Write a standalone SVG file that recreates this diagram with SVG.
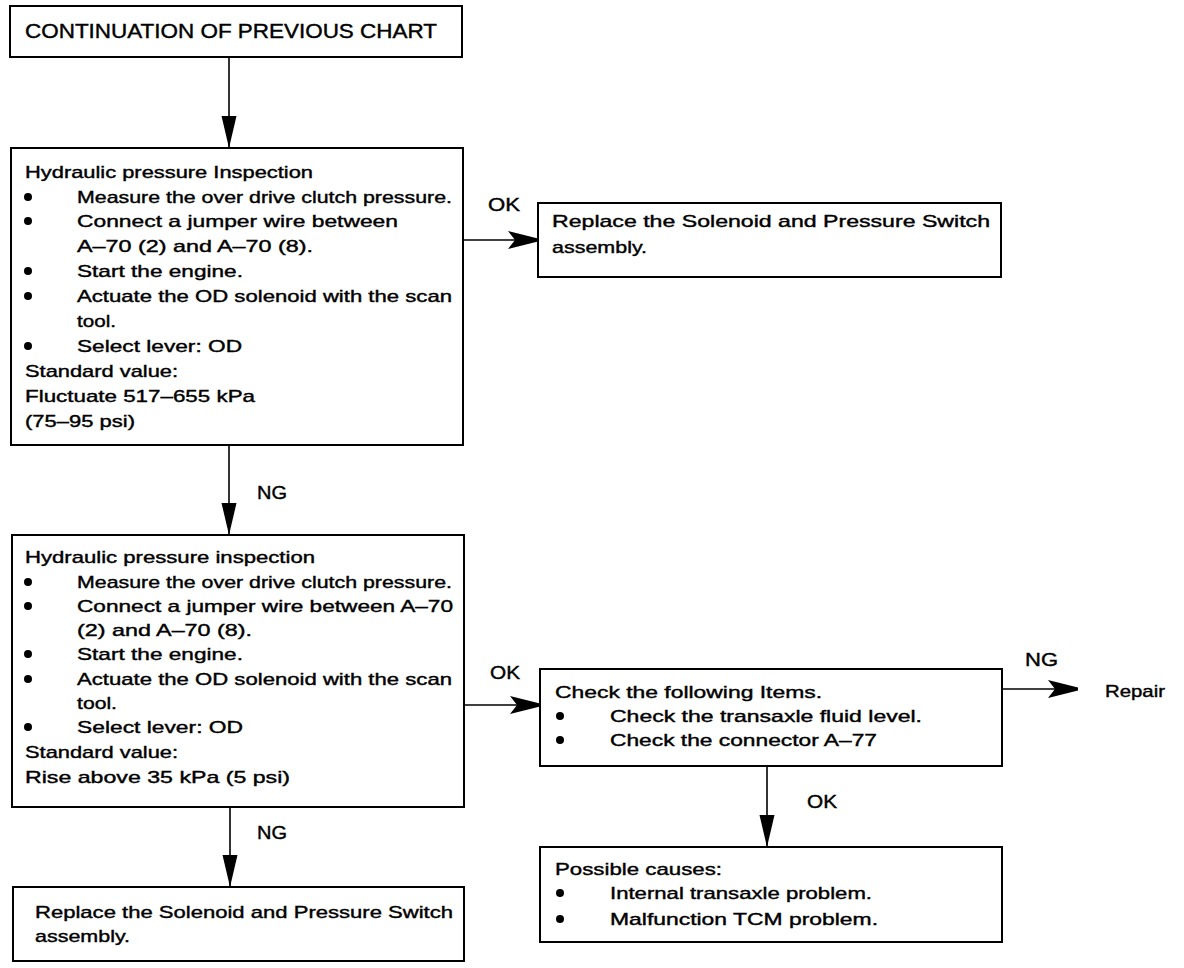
<svg xmlns="http://www.w3.org/2000/svg" width="1184" height="968" viewBox="0 0 1184 968">
<style>
.box{fill:#fff;stroke:#000;stroke-width:2}
.t{font-family:"Liberation Sans",Arial,sans-serif;font-size:17px;fill:#000;stroke:#000;stroke-width:0.4}
.title{font-size:20px}
.lbl{font-size:18px}
.c{stroke:#000;stroke-width:1.6;fill:none}
.b{fill:#000}
</style>
<defs>
<marker id="tri" markerUnits="userSpaceOnUse" viewBox="0 -8 32 16" markerWidth="32" markerHeight="16" refX="32" refY="0" orient="auto">
<path d="M0,-7.5 L32,0 L0,7.5 z" fill="#000"/>
</marker>
<marker id="dart" markerUnits="userSpaceOnUse" viewBox="0 -10 30 20" markerWidth="30" markerHeight="20" refX="30" refY="0" orient="auto">
<path d="M0,-9 L30,-1.5 L30,1.5 L0,9 L7,0 z" fill="#000"/>
</marker>
</defs>
<rect width="1184" height="968" fill="#fff"/>

<g id="connectors">
<line class="c" x1="229" y1="57" x2="229" y2="148" marker-end="url(#tri)"/>
<line class="c" x1="229" y1="445" x2="229" y2="535" marker-end="url(#tri)"/>
<line class="c" x1="230" y1="807" x2="230" y2="887" marker-end="url(#tri)"/>
<line class="c" x1="767" y1="766" x2="767" y2="847" marker-end="url(#tri)"/>
<line class="c" x1="463" y1="240" x2="538" y2="240" marker-end="url(#dart)"/>
<line class="c" x1="463" y1="705" x2="540" y2="705" marker-end="url(#dart)"/>
<line class="c" x1="1002" y1="689" x2="1078" y2="689" marker-end="url(#dart)"/>
<text class="t lbl" x="488" y="211" textLength="32" lengthAdjust="spacingAndGlyphs">OK</text>
<text class="t lbl" x="257" y="499" textLength="30" lengthAdjust="spacingAndGlyphs">NG</text>
<text class="t lbl" x="490" y="679" textLength="30" lengthAdjust="spacingAndGlyphs">OK</text>
<text class="t lbl" x="1025" y="666" textLength="33" lengthAdjust="spacingAndGlyphs">NG</text>
<text class="t lbl" x="807" y="808" textLength="30" lengthAdjust="spacingAndGlyphs">OK</text>
<text class="t lbl" x="257" y="839" textLength="30" lengthAdjust="spacingAndGlyphs">NG</text>
</g>

<g id="n-start">
<rect class="box" x="10" y="6" width="452" height="51"/>
<text class="t title" x="25" y="38" textLength="412" lengthAdjust="spacingAndGlyphs">CONTINUATION OF PREVIOUS CHART</text>
</g>

<g id="n-insp1">
<rect class="box" x="11" y="148" width="452" height="297"/>
<text class="t" x="25" y="178" textLength="288" lengthAdjust="spacingAndGlyphs">Hydraulic pressure Inspection</text>
<circle class="b" cx="28" cy="197" r="4"/>
<text class="t" x="77" y="203" textLength="375" lengthAdjust="spacingAndGlyphs">Measure the over drive clutch pressure.</text>
<circle class="b" cx="28" cy="221" r="4"/>
<text class="t" x="77" y="227" textLength="321" lengthAdjust="spacingAndGlyphs">Connect a jumper wire between</text>
<text class="t" x="77" y="252" textLength="236" lengthAdjust="spacingAndGlyphs">A–70 (2) and A–70 (8).</text>
<circle class="b" cx="28" cy="271" r="4"/>
<text class="t" x="77" y="277" textLength="166" lengthAdjust="spacingAndGlyphs">Start the engine.</text>
<circle class="b" cx="28" cy="296" r="4"/>
<text class="t" x="77" y="302" textLength="375" lengthAdjust="spacingAndGlyphs">Actuate the OD solenoid with the scan</text>
<text class="t" x="77" y="327" textLength="39" lengthAdjust="spacingAndGlyphs">tool.</text>
<circle class="b" cx="28" cy="346" r="4"/>
<text class="t" x="77" y="352" textLength="165" lengthAdjust="spacingAndGlyphs">Select lever: OD</text>
<text class="t" x="25" y="377" textLength="153" lengthAdjust="spacingAndGlyphs">Standard value:</text>
<text class="t" x="25" y="402" textLength="230" lengthAdjust="spacingAndGlyphs">Fluctuate 517–655 kPa</text>
<text class="t" x="25" y="427" textLength="110" lengthAdjust="spacingAndGlyphs">(75–95 psi)</text>
</g>

<g id="n-replace1">
<rect class="box" x="538" y="203" width="463" height="74"/>
<text class="t" x="552" y="227" textLength="438" lengthAdjust="spacingAndGlyphs">Replace the Solenoid and Pressure Switch</text>
<text class="t" x="552" y="253" textLength="95" lengthAdjust="spacingAndGlyphs">assembly.</text>
</g>

<g id="n-insp2">
<rect class="box" x="12" y="535" width="452" height="272"/>
<text class="t" x="25" y="563" textLength="290" lengthAdjust="spacingAndGlyphs">Hydraulic pressure inspection</text>
<circle class="b" cx="28" cy="582" r="4"/>
<text class="t" x="77" y="588" textLength="375" lengthAdjust="spacingAndGlyphs">Measure the over drive clutch pressure.</text>
<circle class="b" cx="28" cy="606" r="4"/>
<text class="t" x="77" y="612" textLength="376" lengthAdjust="spacingAndGlyphs">Connect a jumper wire between A–70</text>
<text class="t" x="77" y="636" textLength="175" lengthAdjust="spacingAndGlyphs">(2) and A–70 (8).</text>
<circle class="b" cx="28" cy="654" r="4"/>
<text class="t" x="77" y="660" textLength="166" lengthAdjust="spacingAndGlyphs">Start the engine.</text>
<circle class="b" cx="28" cy="679" r="4"/>
<text class="t" x="77" y="685" textLength="375" lengthAdjust="spacingAndGlyphs">Actuate the OD solenoid with the scan</text>
<text class="t" x="77" y="709" textLength="40" lengthAdjust="spacingAndGlyphs">tool.</text>
<circle class="b" cx="28" cy="727" r="4"/>
<text class="t" x="77" y="733" textLength="166" lengthAdjust="spacingAndGlyphs">Select lever: OD</text>
<text class="t" x="25" y="758" textLength="153" lengthAdjust="spacingAndGlyphs">Standard value:</text>
<text class="t" x="25" y="783" textLength="265" lengthAdjust="spacingAndGlyphs">Rise above 35 kPa (5 psi)</text>
</g>

<g id="n-check">
<rect class="box" x="540" y="669" width="462" height="97"/>
<text class="t" x="555" y="698" textLength="267" lengthAdjust="spacingAndGlyphs">Check the following Items.</text>
<circle class="b" cx="560" cy="716" r="4"/>
<text class="t" x="610" y="722" textLength="312" lengthAdjust="spacingAndGlyphs">Check the transaxle fluid level.</text>
<circle class="b" cx="560" cy="740" r="4"/>
<text class="t" x="610" y="746" textLength="267" lengthAdjust="spacingAndGlyphs">Check the connector A–77</text>
</g>

<g id="n-repair">
<text class="t" x="1105" y="697" textLength="60" lengthAdjust="spacingAndGlyphs">Repair</text>
</g>

<g id="n-causes">
<rect class="box" x="540" y="847" width="462" height="95"/>
<text class="t" x="555" y="875" textLength="167" lengthAdjust="spacingAndGlyphs">Possible causes:</text>
<circle class="b" cx="560" cy="893" r="4"/>
<text class="t" x="610" y="899" textLength="262" lengthAdjust="spacingAndGlyphs">Internal transaxle problem.</text>
<circle class="b" cx="560" cy="919" r="4"/>
<text class="t" x="610" y="925" textLength="268" lengthAdjust="spacingAndGlyphs">Malfunction TCM problem.</text>
</g>

<g id="n-replace2">
<rect class="box" x="13" y="887" width="451" height="74"/>
<text class="t" x="35" y="918" textLength="418" lengthAdjust="spacingAndGlyphs">Replace the Solenoid and Pressure Switch</text>
<text class="t" x="35" y="942" textLength="95" lengthAdjust="spacingAndGlyphs">assembly.</text>
</g>
</svg>
